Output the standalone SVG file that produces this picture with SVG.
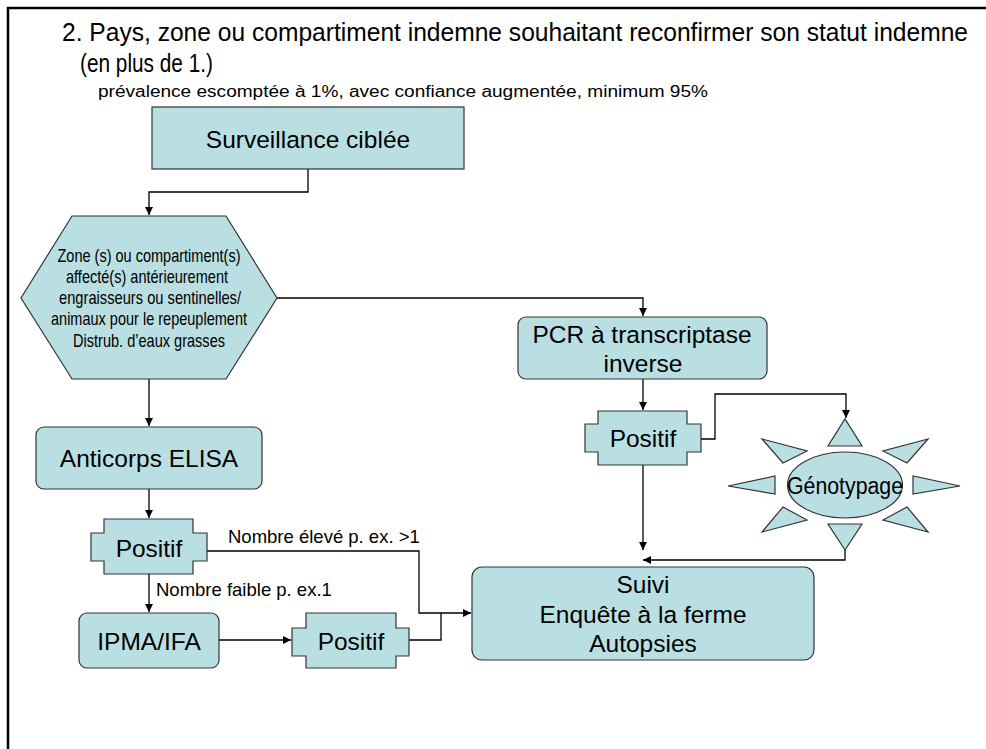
<svg xmlns="http://www.w3.org/2000/svg" width="986" height="749" viewBox="0 0 986 749">
<defs>
<style>
.n{fill:#B9DFE3;stroke:#333;stroke-width:1.2}
.c{fill:none;stroke:#000;stroke-width:1.3}
.t{font-family:"Liberation Sans",Arial,sans-serif;fill:#000}
.m{font-size:24.5px;text-anchor:middle}
.s{font-size:18.5px}
.h{font-size:19px;text-anchor:middle}
</style>
<marker id="a" markerUnits="userSpaceOnUse" markerWidth="9" markerHeight="9" refX="8" refY="4" orient="auto">
<path d="M0,0 L8,4 L0,8 z" fill="#000"/>
</marker>
</defs>
<rect width="986" height="749" fill="#fff"/>
<path d="M8,749 V8 H986" fill="none" stroke="#000" stroke-width="2.5"/>
<g id="title" class="t">
<text x="62" y="41" font-size="25" textLength="906" lengthAdjust="spacingAndGlyphs">2. Pays, zone ou compartiment indemne souhaitant reconfirmer son statut indemne</text>
<text x="80" y="72" font-size="25" textLength="133" lengthAdjust="spacingAndGlyphs">(en plus de 1.)</text>
<text x="98" y="97" font-size="16" textLength="610" lengthAdjust="spacingAndGlyphs">prévalence escomptée à 1%, avec confiance augmentée, minimum 95%</text>
</g>
<g id="connectors" class="c">
<path d="M308,169 V192 H149 V215" marker-end="url(#a)"/>
<path d="M277,298 H643 V316" marker-end="url(#a)"/>
<path d="M149,379 V426" marker-end="url(#a)"/>
<path d="M149,489 V518" marker-end="url(#a)"/>
<path d="M149,574 V612" marker-end="url(#a)"/>
<path d="M207,551 H419 V613 H471" marker-end="url(#a)"/>
<path d="M219,640 H291" marker-end="url(#a)"/>
<path d="M409,640 H441 V613"/>
<path d="M643,379 V410" marker-end="url(#a)"/>
<path d="M701,439 H715 V394 H846 V418" marker-end="url(#a)"/>
<path d="M643,465 V550" marker-end="url(#a)"/>
<path d="M845,550 V560 H643" marker-end="url(#a)"/>
</g>
<g id="labels" class="t s">
<text x="228" y="543">Nombre élevé p. ex. &gt;1</text>
<text x="156" y="596">Nombre faible p. ex.1</text>
</g>
<g id="surveillance">
<rect class="n" x="152" y="107" width="312" height="62"/>
<text class="t m" x="308" y="148">Surveillance ciblée</text>
</g>
<g id="zones">
<polygon class="n" points="72,216 226,216 277,298 226,379 72,379 21,298"/>
<g class="t h">
<text x="149" y="262" textLength="183" lengthAdjust="spacingAndGlyphs">Zone (s) ou compartiment(s)</text>
<text x="147" y="283" textLength="162" lengthAdjust="spacingAndGlyphs">affecté(s) antérieurement</text>
<text x="150" y="304" textLength="182" lengthAdjust="spacingAndGlyphs">engraisseurs ou sentinelles/</text>
<text x="149" y="325" textLength="196" lengthAdjust="spacingAndGlyphs">animaux pour le repeuplement</text>
<text x="149" y="347" textLength="152" lengthAdjust="spacingAndGlyphs">Distrub. d’eaux grasses</text>
</g>
</g>
<g id="pcr">
<rect class="n" x="518" y="317" width="249" height="62" rx="8"/>
<text class="t m" x="642" y="343">PCR à transcriptase</text>
<text class="t m" x="643" y="372">inverse</text>
</g>
<g id="positif-pcr">
<polygon class="n" points="598,411 687,411 687,424 701,424 701,452 687,452 687,465 598,465 598,452 585,452 585,424 598,424"/>
<text class="t m" x="643" y="447">Positif</text>
</g>
<g id="genotypage">
<g class="n">
<polygon points="828,446 862,446 845,419"/>
<polygon points="828,524 862,524 845,550"/>
<polygon points="728,486 775,476 775,494"/>
<polygon points="913,476 913,494 960,486"/>
<polygon points="762,439 807,451 783,463"/>
<polygon points="928,439 883,451 907,463"/>
<polygon points="762,532 807,520 783,507"/>
<polygon points="928,532 883,520 907,507"/>
<ellipse cx="845" cy="485" rx="57.5" ry="33"/>
</g>
<text class="t" x="845" y="494" font-size="23" text-anchor="middle" textLength="116" lengthAdjust="spacingAndGlyphs">Génotypage</text>
</g>
<g id="anticorps">
<rect class="n" x="36" y="427" width="226" height="62" rx="8"/>
<text class="t m" x="149" y="467">Anticorps ELISA</text>
</g>
<g id="positif1">
<polygon class="n" points="104,519 193,519 193,533 207,533 207,561 193,561 193,574 104,574 104,561 91,561 91,533 104,533"/>
<text class="t m" x="149" y="557">Positif</text>
</g>
<g id="ipma">
<rect class="n" x="79" y="613" width="140" height="55" rx="8"/>
<text class="t m" x="149" y="650">IPMA/IFA</text>
</g>
<g id="positif2">
<polygon class="n" points="306,613 396,613 396,628 409,628 409,656 396,656 396,668 306,668 306,656 292,656 292,628 306,628"/>
<text class="t m" x="351" y="650">Positif</text>
</g>
<g id="suivi">
<rect class="n" x="472" y="567" width="342" height="93" rx="10"/>
<text class="t m" x="643" y="593">Suivi</text>
<text class="t m" x="643" y="623">Enquête à la ferme</text>
<text class="t m" x="643" y="652">Autopsies</text>
</g>
</svg>
